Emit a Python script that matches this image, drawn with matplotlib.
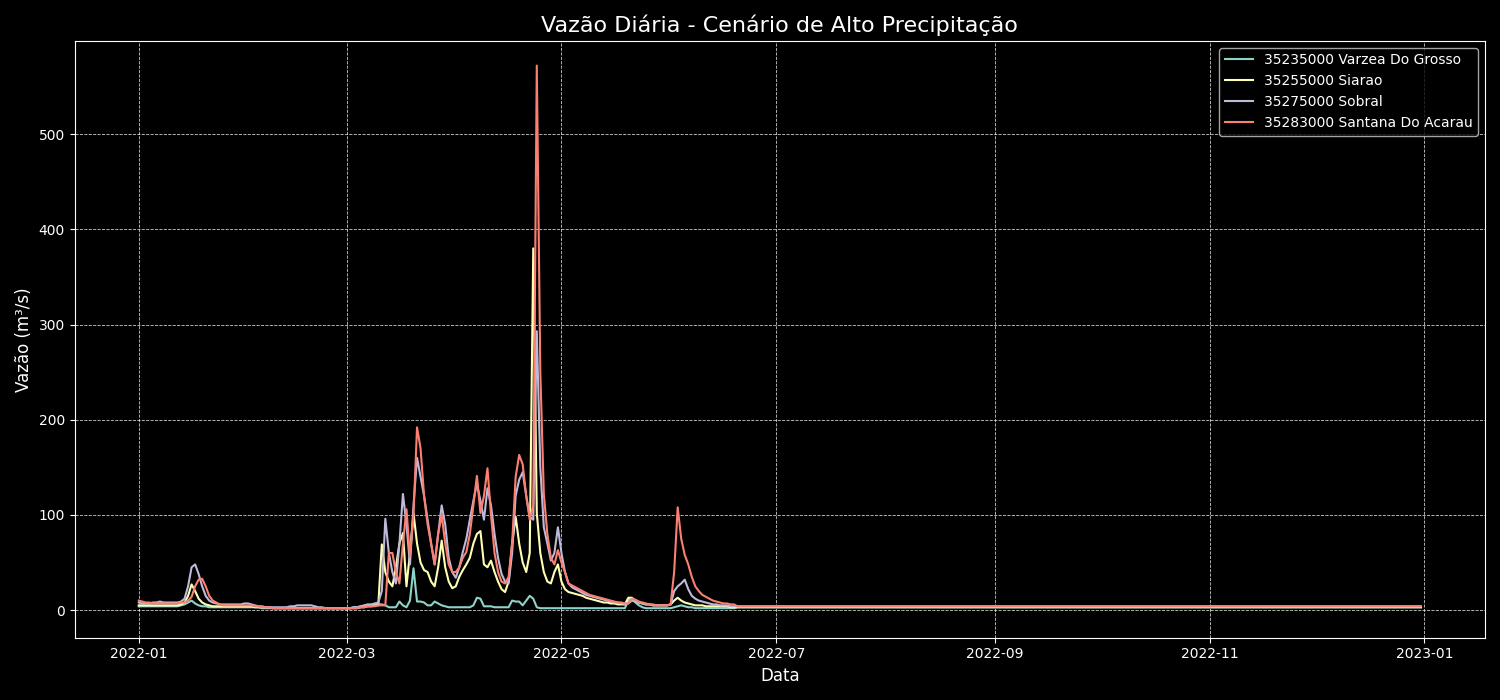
import matplotlib
matplotlib.use('Agg')
import matplotlib.pyplot as plt
import pandas as pd

# Vazão diária (m³/s) - dias 0..169; resto do ano quase constante
varzea_head = [
    4, 4, 4, 4, 4, 4, 4, 4, 4, 4,
    4, 4, 5, 6, 8, 10, 7, 5, 4, 4,
    3, 3, 3, 3, 3, 3, 3, 3, 3, 3,
    3, 3, 3, 3, 3, 2, 2, 2, 2, 2,
    2, 2, 2, 2, 2, 2, 2, 2, 2, 2,
    2, 2, 2, 2, 2, 2, 2, 2, 2, 2,
    2, 3, 3, 4, 4, 5, 5, 5, 6, 6,
    5, 3, 3, 3, 9, 5, 3, 10, 44, 9,
    9, 8, 5, 5, 9, 7, 5, 4, 3, 3,
    3, 3, 3, 3, 3, 5, 13, 12, 4, 4,
    4, 3, 3, 3, 3, 3, 10, 9, 9, 5,
    10, 15, 12, 3, 2, 2, 2, 2, 2, 2,
    2, 2, 2, 2, 2, 2, 2, 2, 2, 2,
    2, 2, 2, 2, 2, 2, 2, 2, 2, 10,
    12, 8, 5, 3, 2, 2, 2, 2, 2, 2,
    2, 2, 3, 4, 5, 4, 3, 3, 2, 2,
    2, 2, 2, 2, 2, 2, 2, 2, 2, 2,
]
siarao_head = [
    5, 5, 5, 5, 5, 5, 5, 5, 5, 5,
    5, 5, 6, 8, 15, 27, 20, 12, 8, 6,
    5, 4, 4, 4, 4, 4, 4, 4, 4, 4,
    4, 4, 4, 3, 3, 3, 3, 3, 2, 2,
    2, 2, 2, 2, 2, 2, 2, 2, 2, 2,
    2, 2, 2, 2, 2, 2, 2, 2, 2, 2,
    2, 2, 2, 3, 3, 4, 4, 5, 5, 69,
    40, 30, 25, 45, 70, 81, 25, 60, 102, 70,
    50, 42, 40, 30, 25, 45, 73, 45, 30, 23,
    25, 35, 42, 48, 55, 70, 80, 83, 48, 45,
    52, 40, 30, 22, 19, 30, 70, 98, 70, 50,
    40, 60, 380, 102, 60, 40, 30, 28, 40, 48,
    30, 22, 19, 18, 17, 16, 15, 13, 12, 11,
    10, 9, 8, 8, 7, 7, 6, 6, 6, 13,
    13, 10, 8, 7, 6, 6, 5, 5, 5, 5,
    5, 6, 10, 13, 10, 8, 7, 6, 5, 5,
    5, 4, 4, 4, 4, 4, 4, 4, 3, 3,
]
sobral_head = [
    8, 7, 7, 7, 8, 8, 9, 8, 8, 8,
    8, 8, 9, 12, 25, 45, 48, 38, 25, 15,
    10, 8, 7, 6, 6, 6, 6, 6, 6, 6,
    7, 7, 6, 5, 4, 4, 3, 3, 3, 3,
    3, 3, 3, 4, 4, 5, 5, 5, 5, 5,
    4, 3, 3, 2, 2, 2, 2, 2, 2, 2,
    2, 3, 3, 4, 5, 6, 6, 7, 8, 20,
    96, 60, 40, 28, 70, 122, 90, 48, 110, 160,
    140, 120, 95, 70, 48, 80, 110, 90, 55, 40,
    34, 45, 61, 75, 95, 115, 133, 115, 95, 128,
    110, 80, 55, 38, 30, 28, 60, 120, 137, 145,
    120, 98, 95, 293, 150, 87, 70, 52, 60, 87,
    60, 40, 28, 24, 22, 20, 18, 16, 15, 14,
    13, 12, 11, 10, 9, 8, 8, 7, 7, 7,
    10, 9, 8, 7, 6, 6, 5, 5, 5, 5,
    5, 6, 20, 25, 28, 32, 22, 15, 12, 10,
    9, 8, 7, 6, 6, 5, 5, 5, 4, 4,
]
santana_head = [
    10, 9, 8, 8, 7, 7, 7, 7, 7, 7,
    7, 7, 8, 8, 10, 14, 25, 32, 33, 25,
    15, 10, 8, 6, 5, 5, 5, 5, 5, 5,
    5, 5, 5, 4, 4, 3, 3, 3, 2, 2,
    2, 2, 2, 2, 2, 2, 2, 2, 2, 2,
    2, 2, 2, 2, 2, 2, 2, 2, 2, 2,
    2, 2, 2, 3, 3, 4, 4, 4, 5, 5,
    5, 60, 60, 40, 28, 70, 106, 56, 100, 192,
    170, 120, 90, 70, 48, 80, 100, 70, 48, 40,
    40, 45, 55, 61, 80, 110, 141, 102, 120, 149,
    100, 60, 40, 30, 28, 35, 70, 140, 163, 153,
    120, 95, 110, 572, 250, 122, 80, 55, 48, 63,
    50, 40, 28, 26, 24, 22, 20, 18, 16, 15,
    14, 13, 12, 11, 10, 9, 8, 8, 7, 7,
    12, 11, 9, 8, 7, 6, 6, 5, 5, 5,
    5, 6, 40, 108, 75, 58, 48, 35, 25, 20,
    16, 14, 12, 10, 9, 8, 7, 7, 6, 6,
]

# valores quase constantes no segundo semestre (195 dias)
varzea_tail = [3] * 195
siarao_tail = [3] * 195
sobral_tail = [4] * 195
santana_tail = [4] * 195

labels = ['35235000 Varzea Do Grosso', '35255000 Siarao',
          '35275000 Sobral', '35283000 Santana Do Acarau']
colors = ['#8dd3c7', '#ffffb3', '#bebada', '#fb8072']

datas = pd.date_range('2022-01-01', '2022-12-31', freq='D')
series = [varzea_head + varzea_tail, siarao_head + siarao_tail,
          sobral_head + sobral_tail, santana_head + santana_tail]

plt.style.use('dark_background')
fig, ax = plt.subplots(figsize=(15, 7), dpi=100)

for nome, cor, valores in zip(labels, colors, series):
    ax.plot(datas, valores, color=cor, linewidth=1.5, label=nome)

ax.set_ylim(-29, 598)
ax.set_title('Vazão Diária - Cenário de Alto Precipitação', fontsize=16)
ax.set_xlabel('Data', fontsize=12)
ax.set_ylabel('Vazão (m³/s)', fontsize=12)
ax.grid(True, linestyle='--', linewidth=0.6, color='white', alpha=0.8)
ax.legend(loc='upper right')

plt.tight_layout()
fig.savefig('out.png')
